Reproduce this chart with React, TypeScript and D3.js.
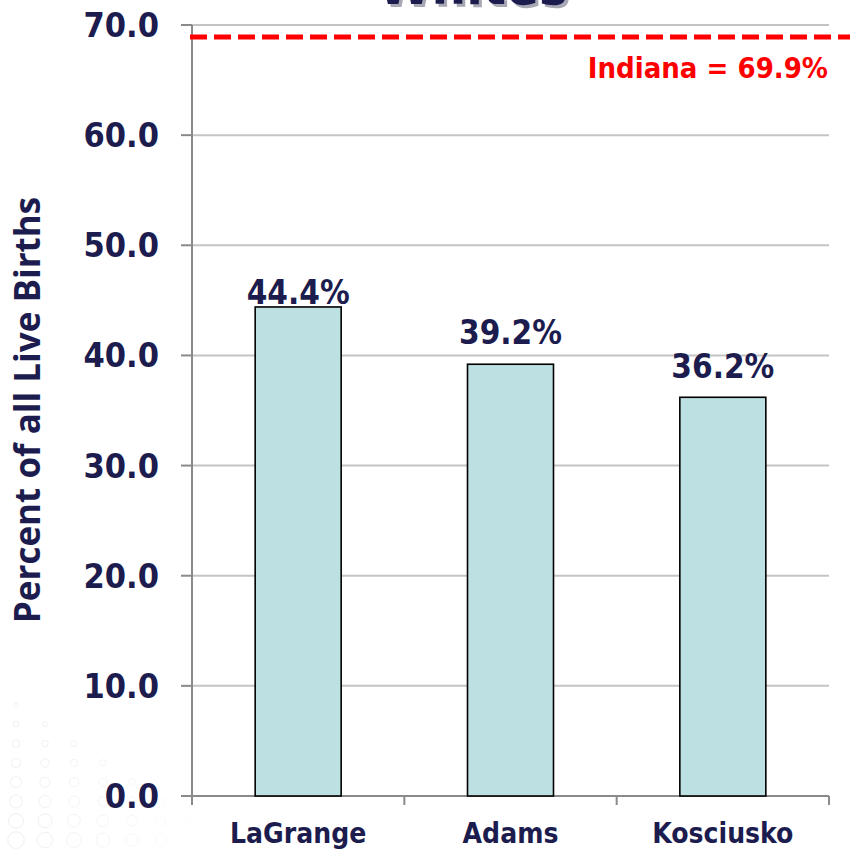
import React, { useEffect } from "react";
import * as d3 from "d3";

const categories = ["LaGrange", "Adams", "Kosciusko"];
const values = [44.4, 39.2, 36.2];
const valueLabels = ["44.4%", "39.2%", "36.2%"];
const yTicks = [0, 10, 20, 30, 40, 50, 60, 70];
const indianaLabel = "Indiana = 69.9%";
const indianaLineValue = 68.9;
const titleText = "Whites";
const yAxisTitle = "Percent of all Live Births";

const W = 850;
const H = 853;
const NAVY = "#1c1c4e";
const FONT = "'DejaVu Sans Condensed', 'DejaVu Sans', sans-serif";

export default function App() {
  useEffect(() => {
    document.body.style.margin = "0";
  }, []);

  const y = d3.scaleLinear().domain([0, 70]).range([796, 25]);
  const x = d3.scaleBand<string>().domain(categories).range([192, 829]).padding(0);
  const barW = x.bandwidth() * 0.405;
  const labelGap = [3, 20, 19];

  // decorative dot pattern (lower-left)
  const dots: { cx: number; cy: number; r: number; o: number }[] = [];
  for (let row = 0; row < 8; row++) {
    for (let col = 0; col <= row; col++) {
      dots.push({
        cx: 16 + col * 29,
        cy: 705 + row * 19.3,
        r: 2 + row * 0.9 - col * 0.5,
        o: 0.6 - col * 0.08,
      });
    }
  }

  return (
    <svg width={W} height={H} style={{ position: "absolute", left: 0, top: 0, fontFamily: FONT }}>
      <rect x={0} y={0} width={W} height={H} fill="#ffffff" />
      {dots.map((d, i) => (
        <circle key={i} cx={d.cx} cy={d.cy} r={Math.max(1, d.r)} fill="none" stroke="#e4e4e4" strokeWidth={1} opacity={Math.max(0.12, d.o)} />
      ))}
      {/* title (cut off) */}
      <text x={476} y={7} textAnchor="middle" fontSize={54} fontWeight="bold" fill="#a8a8b4" fontFamily={FONT} style={{ fontStretch: "condensed" }}>{titleText}</text>
      <text x={473} y={4} textAnchor="middle" fontSize={54} fontWeight="bold" fill={NAVY} fontFamily={FONT} style={{ fontStretch: "condensed" }}>{titleText}</text>

      {/* gridlines */}
      {yTicks.map((t) => (
        <line key={t} x1={192} x2={829} y1={y(t)} y2={y(t)} stroke="#c4c4c4" strokeWidth={2} />
      ))}
      {/* left ticks */}
      {yTicks.map((t) => (
        <line key={"lt" + t} x1={181} x2={192} y1={y(t)} y2={y(t)} stroke="#8a8a8a" strokeWidth={2} />
      ))}
      {/* y axis line */}
      <line x1={192} x2={192} y1={y(70)} y2={805} stroke="#8a8a8a" strokeWidth={2} />
      {/* bottom category ticks */}
      {categories.map((c) => (
        <line key={"bt" + c} x1={(x(c) as number) + x.bandwidth()} x2={(x(c) as number) + x.bandwidth()} y1={y(0)} y2={805} stroke="#8a8a8a" strokeWidth={2} />
      ))}
      <line x1={181} x2={829} y1={y(0)} y2={y(0)} stroke="#8a8a8a" strokeWidth={2} />

      {/* bars */}
      {categories.map((c, i) => {
        const cx = (x(c) as number) + x.bandwidth() / 2;
        return (
          <g key={c}>
            <rect x={cx - barW / 2} y={y(values[i])} width={barW} height={y(0) - y(values[i])} fill="#bde0e2" stroke="#000000" strokeWidth={1.6} />
            <text x={cx} y={y(values[i]) - labelGap[i]} textAnchor="middle" fontSize={33} fontWeight="bold" fill={NAVY} style={{ fontStretch: "condensed" }}>{valueLabels[i]}</text>
            <text x={cx} y={843} textAnchor="middle" fontSize={28} fontWeight="bold" fill={NAVY} style={{ fontStretch: "condensed" }}>{c}</text>
          </g>
        );
      })}

      {/* y tick labels */}
      {yTicks.map((t) => (
        <text key={"yl" + t} x={159} y={y(t) + 12} textAnchor="end" fontSize={34} fontWeight="bold" fill={NAVY} style={{ fontStretch: "condensed" }}>{d3.format(".1f")(t)}</text>
      ))}

      {/* y axis title */}
      <text transform={`translate(40,410) rotate(-90)`} textAnchor="middle" fontSize={35} fontWeight="bold" fill={NAVY} fontFamily="'Open Sans', sans-serif">{yAxisTitle}</text>

      {/* Indiana reference line */}
      <line x1={190} x2={850} y1={y(indianaLineValue)} y2={y(indianaLineValue)} stroke="#ff0000" strokeWidth={5} strokeDasharray="17 7" />
      <text x={828} y={78} textAnchor="end" fontSize={29} fontWeight="bold" fill="#ff0000" style={{ fontStretch: "condensed" }}>{indianaLabel}</text>
    </svg>
  );
}
